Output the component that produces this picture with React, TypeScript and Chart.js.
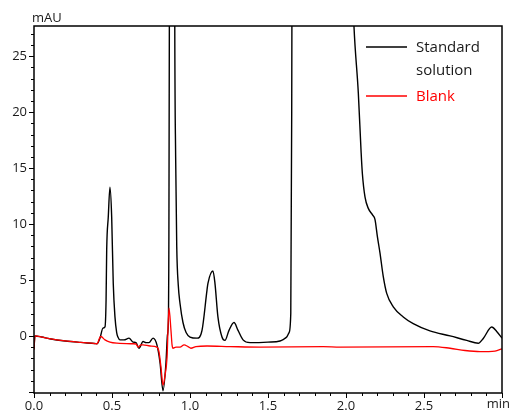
import React, { useEffect, useRef } from 'react';
import { Chart, registerables } from 'chart.js';

Chart.register(...registerables);

const FONT = '"Open Sans", sans-serif';
const TEXT = '#1a1a1a';

// Time axis (min)
const xTickValues = [0, 0.5, 1, 1.5, 2, 2.5, 3];
const xTickLabels = ['0.0', '0.5', '1.0', '1.5', '2.0', '2.5', 'min'];
const yTickValues = [0, 5, 10, 15, 20, 25];
const yAxisUnit = 'mAU';

const seriesNames = ['Standard solution', 'Blank'];

// Standard solution trace
const standardTimes = [
  0, 0.006, 0.05, 0.1, 0.2, 0.3, 0.39, 0.404, 0.423, 0.442, 0.455, 0.462, 0.466, 0.476, 0.487,
  0.498, 0.508, 0.519, 0.53, 0.538, 0.551, 0.577, 0.609, 0.635, 0.654, 0.673, 0.699, 0.718, 0.737,
  0.763, 0.788, 0.808, 0.827, 0.846, 0.855, 0.862, 0.864, 0.868, 0.875, 0.885, 0.895,
  0.902, 0.908, 0.915, 0.925, 0.936, 0.955, 0.975, 1.0, 1.045, 1.077, 1.109, 1.115,
  1.147, 1.16, 1.179, 1.205, 1.224, 1.25, 1.282, 1.308, 1.34, 1.385, 1.5, 1.577, 1.6,
  1.62, 1.635, 1.646, 1.652, 1.658, 1.7, 1.85, 1.98, 2.02, 2.04, 2.051, 2.079, 2.097,
  2.105, 2.122, 2.143, 2.171, 2.186, 2.201, 2.218, 2.239, 2.261, 2.303, 2.367, 2.431,
  2.538, 2.667, 2.774, 2.848, 2.881, 2.934, 2.966, 3.0,
];
const standardValues = [
  -1.2, 0, -0.1, -0.25, -0.45, -0.58, -0.68, -0.7, -0.2, 0.7, 0.8, 3.2, 7.7, 10.6, 13.3,
  10.6, 4.7, 1.7, 0.3, -0.1, -0.35, -0.35, -0.2, -0.55, -0.6, -1.1, -0.5, -0.6, -0.6,
  -0.2, -0.8, -2.4, -4.9, -2.4, 0, 1.7, 6, 30, 150, 200, 100,
  30, 16, 8, 4.5, 2.9, 1.2, 0.3, -0.1, -0.2, 0.5, 4.1, 4.7,
  5.8, 4.7, 1.7, -0.1, -0.4, 0.5, 1.2, 0.5, -0.35, -0.6, -0.55, -0.45, -0.3,
  -0.1, 0.3, 2, 20, 60, 300, 400, 150, 50, 32, 27.7, 21.7, 16.4,
  14.5, 12.4, 11.4, 10.8, 10.4, 8.9, 7.4, 5.3, 3.8, 2.6, 1.7, 1.1,
  0.45, 0, -0.4, -0.65, -0.2, 0.8, 0.4, -0.2,
];

// Blank trace
const blankTimes = [
  0, 0.006, 0.05, 0.1, 0.2, 0.3, 0.39, 0.404, 0.423, 0.429, 0.455, 0.487, 0.532, 0.635,
  0.654, 0.667, 0.686, 0.699, 0.744, 0.788, 0.801, 0.814, 0.827, 0.84, 0.853, 0.865,
  0.878, 0.885, 0.891, 0.91, 0.936, 0.962, 0.987, 1.006, 1.038, 1.109, 1.256, 1.449,
  1.853, 1.962, 2.558, 2.667, 2.763, 2.859, 2.955, 3.0,
];
const blankValues = [
  -1.2, 0, -0.1, -0.25, -0.45, -0.58, -0.68, -0.7, -0.1, -0.05, -0.35, -0.55, -0.65, -0.7,
  -0.72, -1.0, -0.8, -0.8, -0.9, -1.0, -1.4, -2.8, -4.4, -3.5, -1.9, 2.5,
  0.5, -0.8, -1.1, -1.0, -1.0, -0.8, -0.95, -1.1, -0.95, -0.9, -0.95, -1.0,
  -0.95, -1.0, -0.95, -1.1, -1.3, -1.4, -1.35, -1.15,
];

const seriesColors = ['#000000', '#ff0000'];
const lastX = xTickValues[xTickValues.length - 1];

const framePlugin = {
  id: 'frameAndTicks',
  afterDraw(chart: any) {
    const { ctx, chartArea: a, scales } = chart;
    const xs = scales.x;
    const ys = scales.y;
    ctx.save();
    ctx.strokeStyle = '#000';
    ctx.lineWidth = 1;
    for (let v = -5; v <= 27; v++) {
      const py = Math.round(ys.getPixelForValue(v)) + 0.5;
      const len = v % 5 === 0 ? 5 : 3;
      ctx.beginPath();
      ctx.moveTo(a.left - len, py);
      ctx.lineTo(a.left, py);
      ctx.stroke();
    }
    for (let i = 0; i <= 30; i++) {
      const v = i / 10;
      const px = Math.round(xs.getPixelForValue(v)) + 0.5;
      const len = i % 5 === 0 ? 5 : 3;
      ctx.beginPath();
      ctx.moveTo(px, a.bottom);
      ctx.lineTo(px, a.bottom + len);
      ctx.stroke();
    }
    ctx.lineWidth = 1.5;
    ctx.strokeRect(a.left, a.top, a.right - a.left, a.bottom - a.top);
    ctx.fillStyle = TEXT;
    ctx.font = `13px ${FONT}`;
    ctx.textAlign = 'left';
    ctx.textBaseline = 'middle';
    ctx.fillText(yAxisUnit, 32, 18);
    // unit label at the end of the time axis, kept inside the canvas
    ctx.textAlign = 'right';
    ctx.textBaseline = 'top';
    ctx.fillText(xTickLabels[xTickLabels.length - 1], xs.getPixelForValue(lastX) + 8, a.bottom + 5);
    ctx.textAlign = 'left';
    ctx.textBaseline = 'middle';
    ctx.font = `15px ${FONT}`;
    const items = [
      { lines: ['Standard', 'solution'], color: seriesColors[0], y: 47 },
      { lines: ['Blank'], color: seriesColors[1], y: 96 },
    ];
    for (const it of items) {
      ctx.strokeStyle = it.color;
      ctx.lineWidth = 1.5;
      ctx.beginPath();
      ctx.moveTo(366, it.y);
      ctx.lineTo(407, it.y);
      ctx.stroke();
      ctx.fillStyle = it.color === '#000000' ? TEXT : it.color;
      it.lines.forEach((t, k) => ctx.fillText(t, 416, it.y + 1 + k * 23));
    }
    ctx.restore();
  },
};

const noPad = (s: any) => {
  s.paddingLeft = 0;
  s.paddingRight = 0;
  s.paddingTop = 0;
  s.paddingBottom = 0;
};

export default function App() {
  const ref = useRef<HTMLCanvasElement>(null);
  useEffect(() => {
    const canvas = ref.current;
    if (!canvas) return;
    const chart = new Chart(canvas, {
      type: 'line',
      data: {
        datasets: [
          {
            label: seriesNames[1],
            data: blankTimes.map((t, i) => ({ x: t, y: blankValues[i] })),
            borderColor: seriesColors[1],
            borderWidth: 1.3,
            pointRadius: 0,
            cubicInterpolationMode: 'monotone',
          },
          {
            label: seriesNames[0],
            data: standardTimes.map((t, i) => ({ x: t, y: standardValues[i] })),
            borderColor: seriesColors[0],
            borderWidth: 1.4,
            pointRadius: 0,
            cubicInterpolationMode: 'monotone',
          },
        ],
      },
      options: {
        responsive: false,
        animation: false,
        layout: { padding: { top: 26, right: 8, left: 0, bottom: 0 } },
        plugins: { legend: { display: false }, tooltip: { enabled: false } },
        scales: {
          x: {
            type: 'linear',
            min: 0,
            max: 3,
            afterBuildTicks: (s: any) => {
              s.ticks = xTickValues.map((v) => ({ value: v }));
            },
            afterFit: (s: any) => {
              s.height = 19;
              noPad(s);
            },
            grid: { display: false, drawTicks: false },
            border: { display: false },
            ticks: {
              padding: 5,
              maxRotation: 0,
              autoSkip: false,
              color: TEXT,
              font: { family: FONT, size: 13 },
              // last label ("min") is drawn by the plugin so it stays inside the canvas
              callback: (v: any) => (Number(v) === lastX ? '' : xTickLabels[xTickValues.indexOf(Number(v))]),
            },
          },
          y: {
            type: 'linear',
            min: -5.1,
            max: 27.7,
            afterBuildTicks: (s: any) => {
              s.ticks = yTickValues.map((v) => ({ value: v }));
            },
            afterFit: (s: any) => {
              s.width = 34;
              noPad(s);
            },
            grid: { display: false, drawTicks: false },
            border: { display: false },
            ticks: {
              padding: 7,
              autoSkip: false,
              color: TEXT,
              font: { family: FONT, size: 13 },
              callback: (v: any) => String(v),
            },
          },
        },
      },
      plugins: [framePlugin],
    } as any);
    return () => chart.destroy();
  }, []);
  return (
    <div style={{ position: 'fixed', left: 0, top: 0, width: 510, height: 412, background: '#fff' }}>
      <canvas ref={ref} width={510} height={412} style={{ display: 'block' }} />
    </div>
  );
}
